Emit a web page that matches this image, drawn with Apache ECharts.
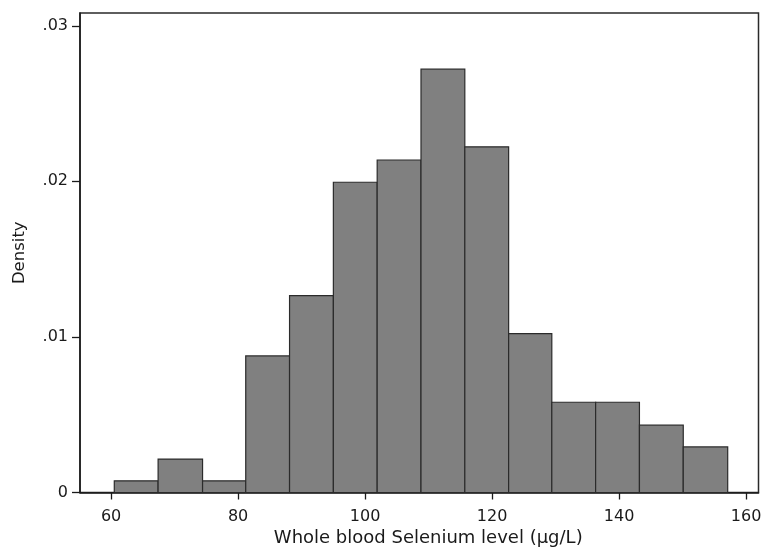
<!DOCTYPE html>
<html>
<head>
<meta charset="utf-8">
<script src="https://cdn.jsdelivr.net/npm/echarts@6/dist/echarts.min.js"></script>
<style>
  html, body { margin: 0; padding: 0; background: #fff; }
  #chart { width: 766px; height: 548px; }
</style>
</head>
<body>
<div id="chart"></div>
<script>
// Bin edges (µg/L)
var binEdges = [60.5, 67.4, 74.4, 81.2, 88.1, 95.0, 101.9, 108.8, 115.7, 122.6, 129.4, 136.3, 143.2, 150.1, 157.1];
// Density of each bin
var densities = [0.00075, 0.00215, 0.00075, 0.00878, 0.01265, 0.01994, 0.02137, 0.02721, 0.02222, 0.01021, 0.0058, 0.0058, 0.00433, 0.00293];
// Tick values
var xTicks = [60, 80, 100, 120, 140, 160];
var yTicks = [0, 0.01, 0.02, 0.03];
var yTickLabels = ['0', '.01', '.02', '.03'];

var barData = densities.map(function (d, i) { return [binEdges[i], binEdges[i + 1], d]; });

var chart = echarts.init(document.getElementById('chart'), null, { renderer: 'canvas' });
var font = 'DejaVu Sans, Liberation Sans, Arial, sans-serif';
chart.setOption({
  animation: false,
  backgroundColor: '#ffffff',
  grid: {
    left: 80, right: 7.5, top: 13, bottom: 55.5,
    containLabel: false,
    outerBoundsMode: 'none',
    show: true, borderColor: '#2a2a2a', borderWidth: 1.5, backgroundColor: 'transparent'
  },
  xAxis: {
    type: 'value',
    min: 55.1, max: 161.95,
    name: 'Whole blood Selenium level (µg/L)',
    nameLocation: 'middle',
    nameGap: 36,
    nameTextStyle: { fontFamily: font, fontSize: 18, color: '#1a1a1a', padding: [0, 0, 0, 18] },
    axisLine: { show: true, onZero: false, lineStyle: { color: '#1a1a1a', width: 1.5 } },
    axisTick: { show: true, length: 7, customValues: xTicks, lineStyle: { color: '#1a1a1a', width: 1.3 } },
    axisLabel: { customValues: xTicks, fontFamily: font, fontSize: 16, color: '#1a1a1a', margin: 16 },
    splitLine: { show: false }
  },
  yAxis: {
    type: 'value',
    min: 0, max: 0.03082,
    name: 'Density',
    nameLocation: 'middle',
    nameGap: 52,
    nameTextStyle: { fontFamily: font, fontSize: 16.5, color: '#1a1a1a' },
    axisLine: { show: true, lineStyle: { color: '#1a1a1a', width: 1.5 } },
    axisTick: { show: true, length: 8, customValues: yTicks, lineStyle: { color: '#1a1a1a', width: 1.3 } },
    axisLabel: {
      customValues: yTicks, fontFamily: font, fontSize: 16, color: '#1a1a1a', margin: 12,
      formatter: function (v) {
        for (var i = 0; i < yTicks.length; i++) { if (Math.abs(v - yTicks[i]) < 1e-9) return yTickLabels[i]; }
        return '';
      }
    },
    splitLine: { show: false }
  },
  series: [{
    type: 'custom',
    data: barData,
    encode: { x: [0, 1], y: 2 },
    renderItem: function (params, api) {
      var p0 = api.coord([api.value(0), 0]);
      var p1 = api.coord([api.value(1), api.value(2)]);
      return {
        type: 'rect',
        shape: { x: p0[0], y: p1[1], width: p1[0] - p0[0], height: p0[1] - p1[1] },
        style: { fill: '#808080', stroke: '#2b2b2b', lineWidth: 1.2 }
      };
    }
  }]
});
</script>
</body>
</html>
